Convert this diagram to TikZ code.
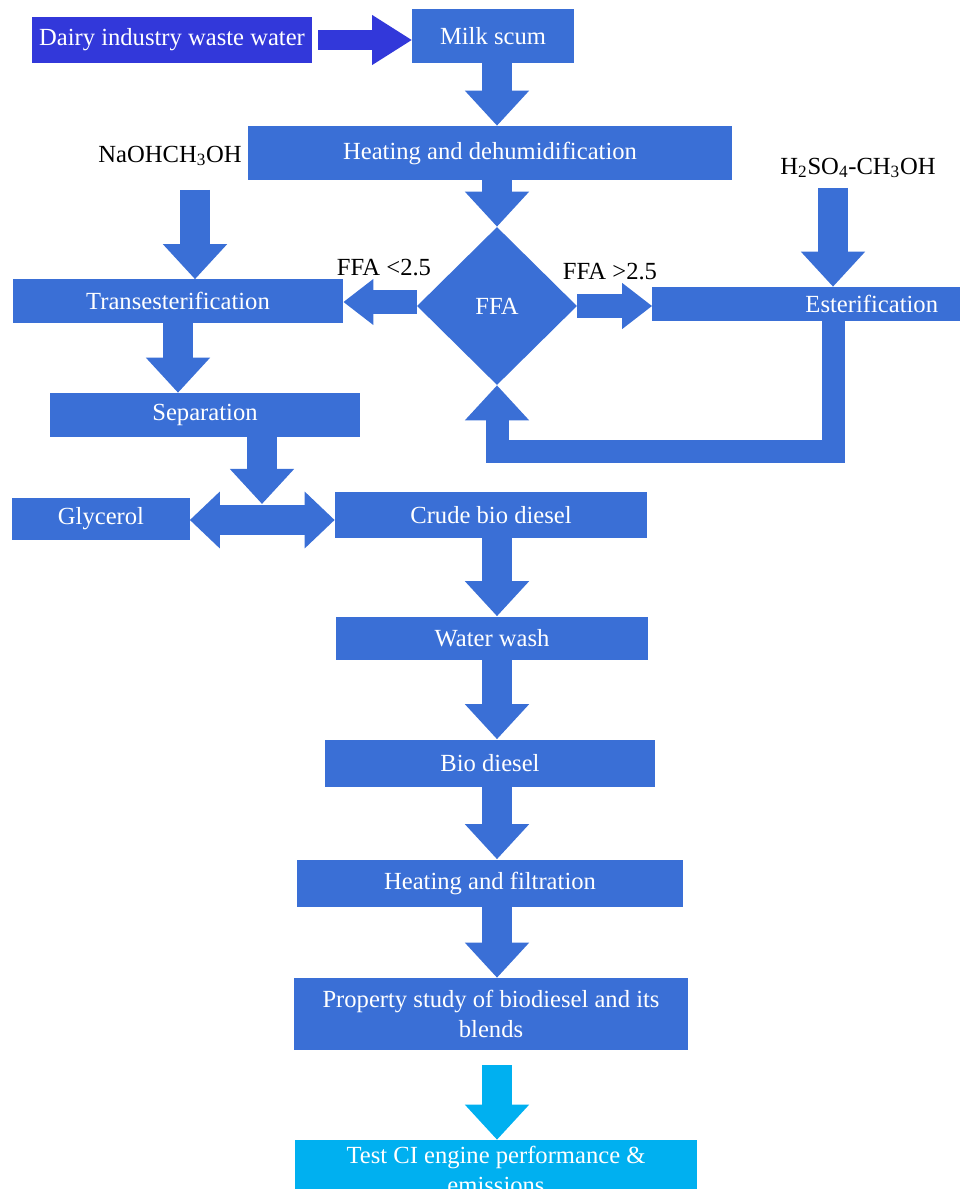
\documentclass[tikz,border=0pt]{standalone}
\usepackage{fontspec}
\setmainfont{Liberation Serif}
\usepackage{tikz}
\usetikzlibrary{arrows.meta, positioning, shapes.geometric, calc}
\definecolor{boxblue}{HTML}{3A6FD6}
\definecolor{dairyblue}{HTML}{3238DA}
\definecolor{testblue}{HTML}{00B0F0}

\begin{document}
\begin{tikzpicture}[x=0.025cm, y=-0.025cm,
    box/.style={rectangle, fill=boxblue, text=white, inner sep=0pt, align=center,
        font=\fontsize{17.5}{21}\selectfont},
    lbl/.style={text=black, inner sep=0pt, font=\fontsize{17.5}{21}\selectfont},
    flow/.style={boxblue, line width=0.75cm, -{Triangle[width=1.55cm, length=0.875cm]}},
    sideflow/.style={boxblue, line width=0.6cm, -{Triangle[width=1.1cm, length=0.75cm]}},
    loopflow/.style={boxblue, line width=0.575cm, line join=miter, -{Triangle[width=1.55cm, length=0.875cm]}},
    dblflow/.style={boxblue, line width=0.75cm, {Triangle[width=1.375cm, length=0.75cm]}-{Triangle[width=1.375cm, length=0.75cm]}}]
    \useasboundingbox (0,0) rectangle (960,1189);
    \clip (0,0) rectangle (960,1189);

    % ===== Top row =====
    \node[box, fill=dairyblue, minimum width=7cm, minimum height=1.15cm] (dairy) at (172,40) {Dairy industry waste water};
    \node[box, minimum width=4.025cm, minimum height=1.325cm] (milk) at (493,36) {Milk scum};
    \node[box, minimum width=12.1cm, minimum height=1.35cm] (heat) at (490,153) {Heating and dehumidification};

    % ===== FFA decision =====
    \node[diamond, fill=boxblue, text=white, inner sep=0pt, minimum width=4cm, minimum height=3.95cm,
        font=\fontsize{17.5}{21}\selectfont] (ffa) at (497,306) {FFA};
    \node[box, minimum width=8.25cm, minimum height=1.075cm] (trans) at (178,301) {Transesterification};
    \node[box, minimum width=7.675cm, minimum height=0.85cm, text width=6.6cm, align=right] (ester) at (806,304) {Esterification};

    % Reagents and conditions
    \node[lbl] (naoh) at (170,156) {NaOHCH\textsubscript{3}OH};
    \node[lbl] (acid) at (858,168) {H\textsubscript{2}SO\textsubscript{4}-CH\textsubscript{3}OH};
    \node[lbl] (ffalow) at (384,268) {FFA <2.5};
    \node[lbl] (ffahigh) at (610,272) {FFA >2.5};

    % ===== Lower chain =====
    \node[box, minimum width=7.75cm, minimum height=1.1cm] (sep) at (205,415) {Separation};
    \node[box, minimum width=4.425cm, minimum height=1.05cm] (glyc) at (101,519) {Glycerol};
    \node[box, minimum width=7.8cm, minimum height=1.125cm] (crude) at (491,515) {Crude bio diesel};
    \node[box, minimum width=7.775cm, minimum height=1.075cm] (wash) at (492,638) {Water wash};
    \node[box, minimum width=8.225cm, minimum height=1.175cm] (bio) at (490,763) {Bio diesel};
    \node[box, minimum width=9.625cm, minimum height=1.175cm] (filt) at (490,883) {Heating and filtration};
    \node[box, minimum width=9.825cm, minimum height=1.8cm] (prop) at (491,1014) {Property study of biodiesel and its\\blends};
    \node[box, fill=testblue, minimum width=10.025cm, minimum height=1.5cm] (test) at (496,1170) {Test CI engine performance \&\\emissions};

    % Helper points
    \coordinate (col) at (497,0);
    \coordinate (naohtop) at (195,190);
    \coordinate (acidtop) at (833,188);
    \coordinate (loopturn) at (833,451);
    \coordinate (split) at (262,504);

    % ===== Arrows =====
    \draw[dairyblue, line width=0.5cm, -{Triangle[width=1.175cm, length=1cm]}] ([xshift=0.15cm]dairy.east) -- (dairy.east -| milk.west);
    \draw[flow] (milk.south -| col) -- (heat.north -| col);
    \draw[flow] (heat.south -| ffa.north) -- (ffa.north);
    \draw[flow] (naohtop) -- (naohtop |- trans.north);
    \draw[flow] (acidtop) -- (acidtop |- ester.north);
    \draw[sideflow] ([yshift=0.1cm]ffa.west) -- ([yshift=0.1cm]ffa.west -| trans.east);
    \draw[sideflow] (ffa.east) -- (ffa.east -| ester.west);
    \draw[loopflow] (ester.south -| loopturn) -- (loopturn) -- (loopturn -| ffa.south) -- (ffa.south);
    \draw[flow] (trans.south) -- (trans.south |- sep.north);
    \draw[flow] (sep.south -| split) -- (split);
    \draw[dblflow] ([yshift=-0.025cm]glyc.east) -- ([yshift=-0.025cm]glyc.east -| crude.west);
    \draw[flow] (crude.south -| col) -- (wash.north -| col);
    \draw[flow] (wash.south -| col) -- (bio.north -| col);
    \draw[flow] (bio.south -| col) -- (filt.north -| col);
    \draw[flow] (filt.south -| col) -- (prop.north -| col);
    \draw[flow, testblue] ($(prop.south -| col)+(0,15)$) -- (test.north -| col);
\end{tikzpicture}
\end{document}
